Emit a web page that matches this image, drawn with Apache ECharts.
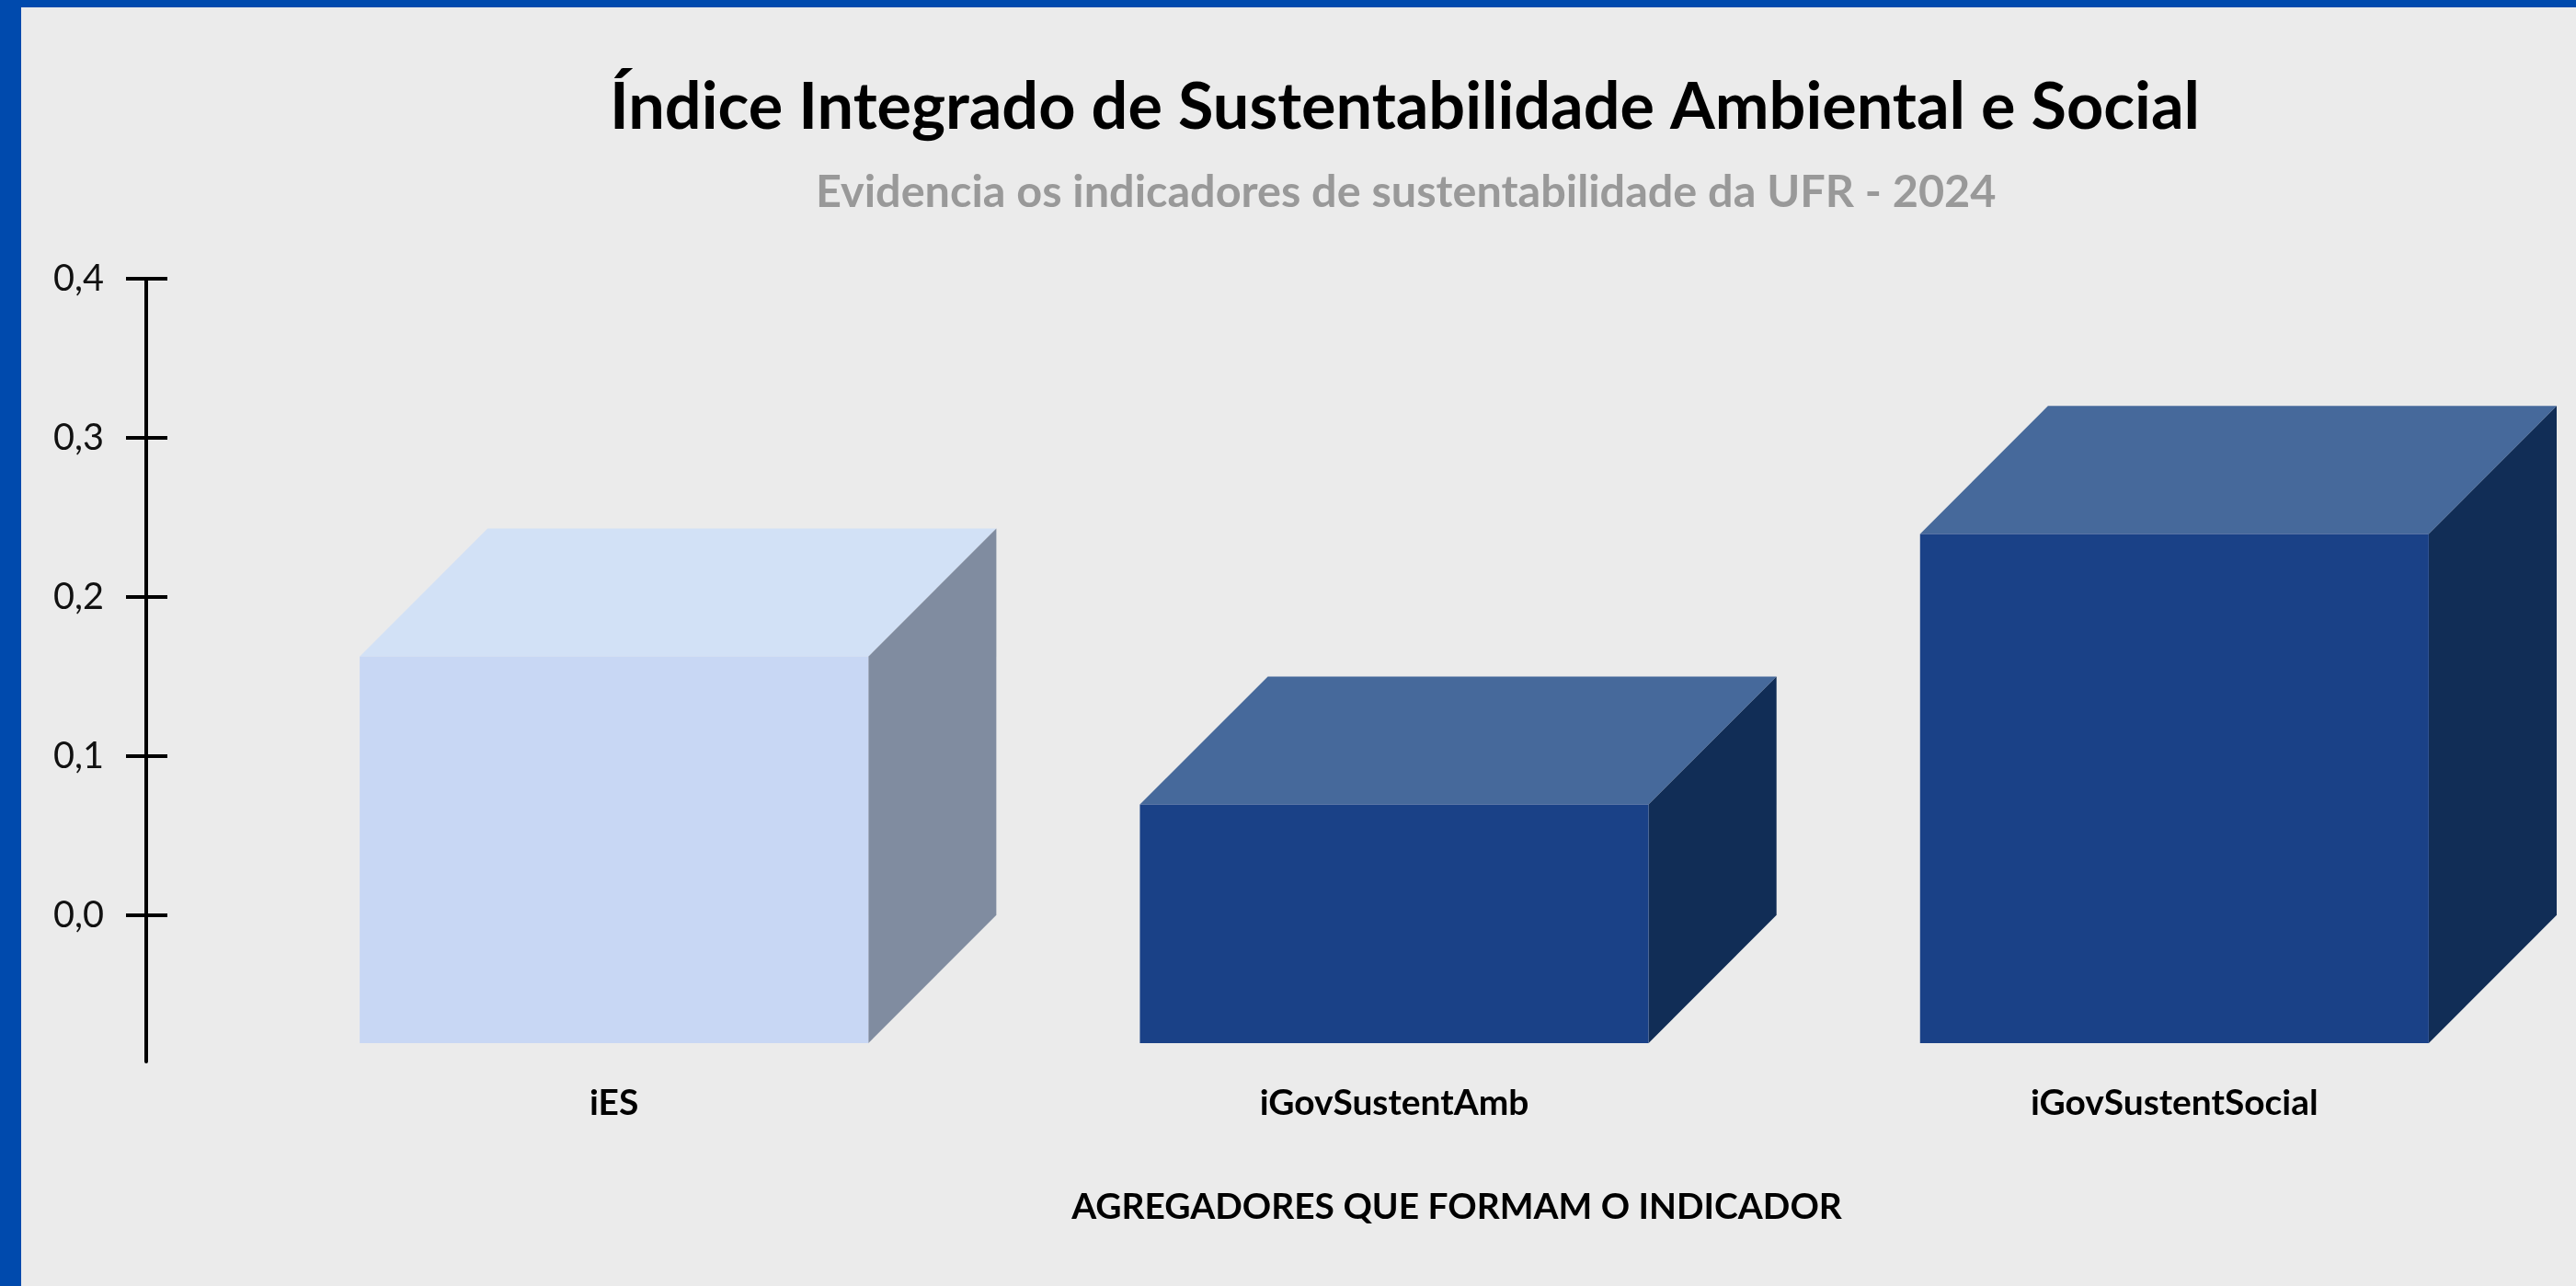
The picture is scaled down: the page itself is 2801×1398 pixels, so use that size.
<!DOCTYPE html>
<html>
<head>
<meta charset="utf-8">
<title>Índice Integrado de Sustentabilidade Ambiental e Social</title>
<script src="https://cdn.jsdelivr.net/npm/echarts@6/dist/echarts.min.js"></script>
<style>
  html, body { margin: 0; padding: 0; background: #ebebeb; }
  #chart { position: absolute; left: 0; top: 0; width: 2801px; height: 1398px; }
  .edge { position: absolute; background: #004aad; z-index: 5; }
  #edgeTop { left: 0; top: 0; width: 2801px; height: 8px; }
  #edgeLeft { left: 0; top: 0; width: 23px; height: 1398px; }
</style>
</head>
<body>
<div id="chart"></div>
<div class="edge" id="edgeTop"></div>
<div class="edge" id="edgeLeft"></div>
<script>
// ---- data ----
const categories = ['iES', 'iGovSustentAmb', 'iGovSustentSocial'];
const values = [0.243, 0.15, 0.32];
const yTicks = [0, 0.1, 0.2, 0.3, 0.4];
const chartTitle = 'Índice Integrado de Sustentabilidade Ambiental e Social';
const chartSubtitle = 'Evidencia os indicadores de sustentabilidade da UFR - 2024';
const xAxisTitle = 'AGREGADORES QUE FORMAM O INDICADOR';

// ---- face colours for each box (front / top / side) ----
const faceColors = [
  { front: '#c8d7f4', top: '#d2e1f6', side: '#808ca0' },
  { front: '#1a4187', top: '#46699b', side: '#112d56' },
  { front: '#1a4187', top: '#46699b', side: '#112d56' }
];

// ---- layout ----
const FONT = 'Lato';
const gridTop = 303, gridBottom = 244, gridLeft = 243.5, gridRight = 12.5;
const axisX = 159;            // x of the value axis line
const yMin = -0.092, yMax = 0.4;
const faceRatio = 0.652;       // front face width / category band
const depthRatio = 0.164;      // 45° depth offset / category band

// size a font so that a string spans a given pixel width
const measureCtx = document.createElement('canvas').getContext('2d');
function fitSize(text, weight, width) {
  measureCtx.font = weight + ' 100px ' + FONT;
  return Math.round(100 * width / measureCtx.measureText(text).width * 10) / 10;
}
const titleSize = fitSize(chartTitle, 'bold', 1730);
const subSize = fitSize(chartSubtitle, 'bold', 1283);
const nameSize = fitSize(xAxisTitle, 'bold', 839);
const tickSize = fitSize('0,4', 'normal', 55);

// offset between a line box centre and the centre of its capitals
const CAP_SHIFT = -0.05;
// place a single line so that its cap-height centre sits at y
const capTop = (fs, capCenter) => capCenter - CAP_SHIFT * fs - fs / 2;

const seriesData = categories.map((c, i) => [i, values[i]]);

function renderBox(params, api) {
  const i = api.value(0);
  const v = api.value(1);
  const base = api.coord([i, 0]);
  const top = api.coord([i, v]);
  const band = api.size([1, 0])[0];
  const w = band * faceRatio;
  const d = band * depthRatio;
  const xl = base[0] - w / 2, xr = base[0] + w / 2;
  const yb = base[1] + d, yt = top[1] + d;
  const c = faceColors[i];
  return {
    type: 'group',
    children: [
      { type: 'polygon',
        shape: { points: [[xl, yt], [xr, yt], [xr + d, yt - d], [xl + d, yt - d]] },
        style: { fill: c.top } },
      { type: 'polygon',
        shape: { points: [[xr, yt], [xr + d, yt - d], [xr + d, yb - d], [xr, yb]] },
        style: { fill: c.side } },
      { type: 'rect',
        shape: { x: xl, y: yt, width: w, height: yb - yt },
        style: { fill: c.front } }
    ]
  };
}

const yAxisBase = {
  type: 'value',
  min: yMin,
  max: yMax,
  position: 'left',
  offset: gridLeft - axisX,
  splitLine: { show: false }
};

const chart = echarts.init(document.getElementById('chart'), null, { renderer: 'canvas' });
chart.setOption({
  backgroundColor: '#ebebeb',
  animation: false,
  title: [
    {
      text: chartTitle,
      left: 663,
      top: capTop(titleSize, 114),
      padding: 0,
      textStyle: { fontFamily: FONT, fontWeight: 'bold', fontSize: titleSize, lineHeight: titleSize, color: '#000000' }
    },
    {
      text: chartSubtitle,
      left: 887,
      top: capTop(subSize, 207),
      padding: 0,
      textStyle: { fontFamily: FONT, fontWeight: 'bold', fontSize: subSize, lineHeight: subSize, color: '#999999' }
    }
  ],
  grid: { left: gridLeft, right: gridRight, top: gridTop, bottom: gridBottom, containLabel: false },
  xAxis: {
    type: 'category',
    data: categories,
    axisLine: { show: false },
    axisTick: { show: false },
    axisLabel: {
      interval: 0,
      fontFamily: FONT,
      fontWeight: 'bold',
      fontSize: nameSize,
      lineHeight: nameSize,
      color: '#000000',
      margin: 1198 - CAP_SHIFT * nameSize - nameSize / 2 - 1154
    },
    name: xAxisTitle,
    nameLocation: 'middle',
    nameGap: 1311 - CAP_SHIFT * nameSize - 1154,
    nameTextStyle: {
      fontFamily: FONT,
      fontWeight: 'bold',
      fontSize: nameSize,
      lineHeight: nameSize,
      color: '#000000',
      verticalAlign: 'middle',
      padding: [0, 0, 0, 136]
    }
  },
  yAxis: [
    Object.assign({}, yAxisBase, {
      axisLine: { show: true, lineStyle: { color: '#000000', width: 4 } },
      axisTick: { show: true, length: 22, customValues: yTicks, lineStyle: { color: '#000000', width: 4 } },
      axisLabel: {
        customValues: yTicks,
        margin: 46,
        fontFamily: FONT,
        fontSize: tickSize,
        color: '#111111',
        formatter: v => v.toFixed(1).replace('.', ',')
      }
    }),
    Object.assign({}, yAxisBase, {
      axisLine: { show: false },
      axisTick: { show: true, inside: true, length: 23, customValues: yTicks, lineStyle: { color: '#000000', width: 4 } },
      axisLabel: { show: false }
    })
  ],
  series: [{
    type: 'custom',
    renderItem: renderBox,
    clip: false,
    encode: { x: 0, y: 1 },
    data: seriesData
  }]
});
</script>
</body>
</html>
